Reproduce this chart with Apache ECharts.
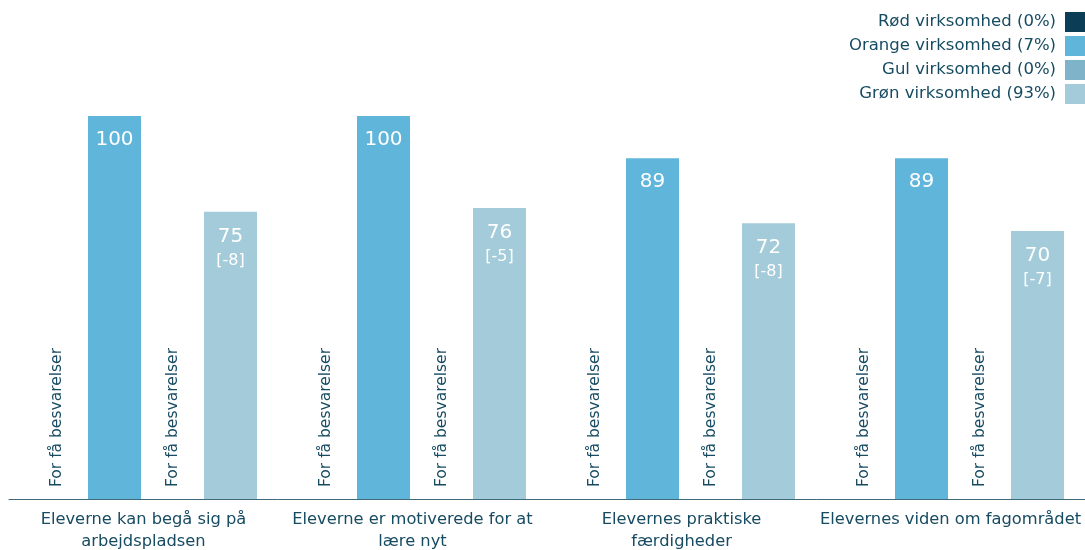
<!DOCTYPE html>
<html>
<head>
<meta charset="utf-8">
<script src="https://cdn.jsdelivr.net/npm/echarts@6/dist/echarts.min.js"></script>
<style>
  html, body { margin: 0; padding: 0; background: #fff; }
  #chart { width: 1085px; height: 550px; }
</style>
</head>
<body>
<div id="chart"></div>
<script>
const categories = [
  'Eleverne kan begå sig på\narbejdspladsen',
  'Eleverne er motiverede for at\nlære nyt',
  'Elevernes praktiske\nfærdigheder',
  'Elevernes viden om fagområdet'
];
const seriesNames = ['Rød virksomhed (0%)', 'Orange virksomhed (7%)', 'Gul virksomhed (0%)', 'Grøn virksomhed (93%)'];
// Rød and Gul have too few answers: no bars, only a note
const redValues = [0, 0, 0, 0];
const orangeValues = [100, 100, 89, 89];
const yellowValues = [0, 0, 0, 0];
const greenValues = [75, 76, 72, 70];
const greenDiffs = ['-8', '-5', '-8', '-7'];
const noteText = 'For få besvarelser';

const textColor = '#164b62';
const font = 'DejaVu Sans';

const chart = echarts.init(document.getElementById('chart'));

const noteLabel = {
  show: true,
  formatter: noteText,
  position: 'insideBottom',
  distance: 12,
  rotate: 90,
  align: 'left',
  verticalAlign: 'middle',
  color: textColor,
  fontFamily: font,
  fontSize: 15.5,
};

chart.setOption({
  animation: false,
  textStyle: { fontFamily: font },
  legend: {
    orient: 'vertical',
    right: 0,
    top: 12,
    padding: 0,
    align: 'right',
    itemWidth: 20,
    itemHeight: 20,
    itemGap: 4,
    icon: 'rect',
    selectedMode: false,
    textStyle: { color: textColor, fontSize: 16.5, fontFamily: font, padding: [0, 4, 0, 0] },
    data: seriesNames,
  },
  grid: {
    left: 9,
    right: 0,
    top: 116,
    bottom: 51,
    outerBoundsMode: 'none',
  },
  xAxis: {
    type: 'category',
    data: categories,
    axisLine: { lineStyle: { color: '#3f6a7e', width: 1 } },
    axisTick: { show: false },
    axisLabel: {
      color: textColor,
      fontSize: 16.3,
      lineHeight: 22,
      margin: 10,
      interval: 0,
      fontFamily: font,
    },
  },
  yAxis: {
    type: 'value',
    min: 0,
    max: 100,
    show: false,
  },
  series: [
    {
      name: seriesNames[0],
      type: 'bar',
      barWidth: 53,
      barGap: '9.4%',
      itemStyle: { color: '#0b3e56' },
      label: noteLabel,
      data: redValues,
    },
    {
      name: seriesNames[1],
      type: 'bar',
      barWidth: 53,
      barGap: '9.4%',
      itemStyle: { color: '#5fb5da' },
      label: {
        show: true,
        position: 'insideTop',
        distance: 14,
        color: '#fff',
        fontSize: 20,
        fontFamily: font,
      },
      data: orangeValues,
    },
    {
      name: seriesNames[2],
      type: 'bar',
      barWidth: 53,
      barGap: '9.4%',
      itemStyle: { color: '#7fb3c9' },
      label: noteLabel,
      data: yellowValues,
    },
    {
      name: seriesNames[3],
      type: 'bar',
      barWidth: 53,
      barGap: '9.4%',
      itemStyle: { color: '#a3cbd9' },
      label: {
        show: true,
        position: 'insideTop',
        distance: 12,
        formatter: (p) => '{v|' + p.value + '}\n{d|[' + greenDiffs[p.dataIndex] + ']}',
        rich: {
          v: { color: '#fff', fontSize: 20, lineHeight: 26, fontFamily: font },
          d: { color: '#fff', fontSize: 16, lineHeight: 22, fontFamily: font },
        },
      },
      data: greenValues,
    },
  ],
});
</script>
</body>
</html>
